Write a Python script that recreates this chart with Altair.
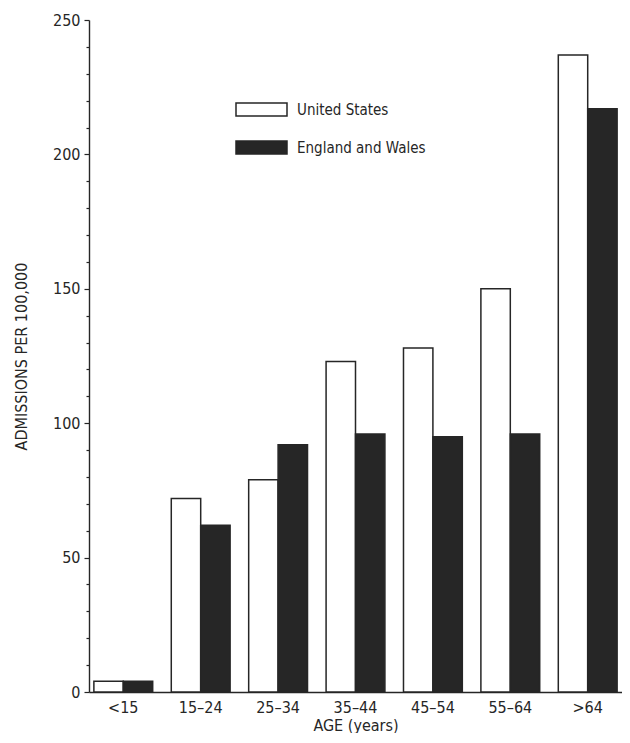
import altair as alt
import pandas as pd

ages = ["<15", "15–24", "25–34", "35–44", "45–54", "55–64", ">64"]
series = ["United States", "England and Wales"]
us_values = [4, 72, 79, 123, 128, 150, 237]
ew_values = [4, 62, 92, 96, 95, 96, 217]
y_tick_values = list(range(0, 251, 10))

rows = []
for a, u, e in zip(ages, us_values, ew_values):
    rows.append({"age": a, "series": series[0], "value": u})
    rows.append({"age": a, "series": series[1], "value": e})
df = pd.DataFrame(rows)

FONT = "DejaVu Sans Condensed, Liberation Sans Narrow, sans-serif"
INK = "#262626"

chart = alt.Chart(df).mark_bar(stroke=INK, strokeWidth=1.5).encode(
    x=alt.X(
        "age:N",
        sort=ages,
        scale=alt.Scale(paddingInner=0.24, paddingOuter=0.063),
        axis=alt.Axis(
            title="AGE (years)",
            labelAngle=0,
            ticks=False,
            tickSize=0,
            labelPadding=7,
            titlePadding=2,
            domainWidth=1.6,
        ),
    ),
    xOffset=alt.XOffset("series:N", sort=series),
    y=alt.Y(
        "value:Q",
        scale=alt.Scale(domain=[0, 250], nice=False),
        axis=alt.Axis(
            values=y_tick_values,
            labelExpr="datum.value % 50 === 0 ? datum.label : ''",
            tickSize={"condition": {"test": "datum.value % 50 === 0", "value": 5}, "value": 3},
            labelPadding=4,
            grid=False,
            title="ADMISSIONS PER 100,000",
            titleX=-68,
            titleBaseline="middle",
            domainWidth=1.4,
        ),
    ),
    fill=alt.Fill(
        "series:N",
        sort=series,
        scale=alt.Scale(domain=series, range=["#ffffff", "#262626"]),
        legend=alt.Legend(
            title=None,
            orient="none",
            legendX=146,
            legendY=63,
            padding=0,
            symbolType="M-1,-0.255H1V0.255H-1Z",
            symbolSize=2601,
            symbolStrokeColor=INK,
            symbolStrokeWidth=1.5,
            labelFont=FONT,
            labelFontSize=15,
            labelColor=INK,
            labelOffset=9,
            rowPadding=1,
        ),
    ),
).properties(
    width=533,
    height=672,
    padding={"left": 5, "top": 4, "right": 0, "bottom": 0},
).configure_view(
    stroke=None
).configure_axis(
    labelFont=FONT,
    titleFont=FONT,
    labelFontSize=16,
    titleFontSize=16,
    titleFontWeight="normal",
    labelColor=INK,
    titleColor=INK,
    domainColor=INK,
    tickColor=INK,
    tickWidth=1.2,
)

chart.save("out.html", embed_options={"renderer": "svg", "actions": False})
